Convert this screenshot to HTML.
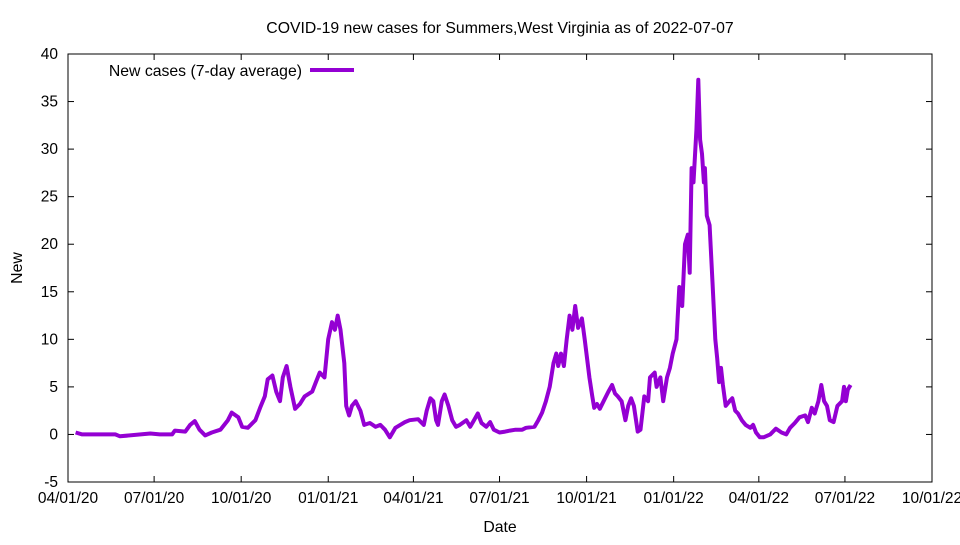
<!DOCTYPE html>
<html><head><meta charset="utf-8"><style>
body{margin:0;background:#fff;}
svg text{font-family:"Liberation Sans",sans-serif;font-size:15.5px;fill:#000;}
svg text.big{font-size:15.8px;}
</style></head><body>
<svg width="960" height="540">
<text class="big" x="500" y="33" text-anchor="middle">COVID-19 new cases for Summers,West Virginia as of 2022-07-07</text>
<rect x="68" y="54" width="864" height="428" fill="none" stroke="#000" stroke-width="1"/>
<g id="axes"></g>
<text class="big" x="500" y="532" text-anchor="middle">Date</text>
<text class="big" x="22" y="268" text-anchor="middle" transform="rotate(-90 22 268)">New</text>
<text class="big" x="302" y="76" text-anchor="end">New cases (7-day average)</text>
<line x1="310" y1="70" x2="354" y2="70" stroke="#9400d3" stroke-width="4"/>
<path id="series" fill="none" stroke="#9400d3" stroke-width="4" stroke-linejoin="round"/>
</svg>
<script>
const days=[8,15,50,55,87,97,110,113,124,129,134,139,145,152,161,169,173,180,184,190,198,203,208,211,216,220,224,227,231,235,240,245,250,258,262,266,271,275,279,282,285,288,292,294,297,300,304,309,313,319,325,330,335,340,346,351,356,361,370,376,379,383,386,389,391,395,398,402,406,410,414,421,425,429,433,437,442,446,450,456,462,467,473,480,484,493,497,501,505,509,513,516,518,521,524,527,530,533,536,539,543,546,551,554,556,559,562,566,571,575,578,581,585,589,592,595,598,602,605,609,613,615,620,622,626,629,633,636,639,643,646,649,652,655,657,659,661,664,666,668,670,672,673,675,678,681,684,686,688,690,692,695,699,702,705,708,712,716,721,724,727,731,735,742,748,754,759,763,768,773,779,782,786,789,793,796,799,802,805,809,813,818,820,822,824,827];
const cases=[0.2,0,0,-0.2,0.1,0,0,0.4,0.3,1,1.4,0.5,-0.1,0.2,0.5,1.5,2.3,1.8,0.8,0.7,1.5,2.8,4,5.8,6.2,4.5,3.5,6,7.2,5,2.7,3.2,4,4.5,5.5,6.5,6,10,11.8,11,12.5,11,7.5,3,2,3,3.5,2.5,1,1.2,0.8,1,0.5,-0.3,0.7,1,1.3,1.5,1.6,1,2.5,3.8,3.5,1.5,1,3.5,4.2,3,1.5,0.8,1,1.5,0.8,1.5,2.2,1.2,0.8,1.3,0.5,0.2,0.3,0.4,0.5,0.5,0.7,0.8,1.5,2.3,3.5,5,7.5,8.5,7.2,8.5,7.2,10,12.5,11,13.5,11.2,12.2,10,6,4,2.8,3.2,2.7,3.5,4.5,5.2,4.3,4,3.5,1.5,3,3.8,3,0.3,0.5,4,3.5,6,6.5,5,6,3.5,6,7,8.5,10,15.5,13.5,20,21,17,28,26.5,32,37.3,31,29.5,26.5,28,23,22,16,10,8,5.5,7,5.2,3,3.5,3.8,2.5,2.2,1.5,1,0.7,1,0.2,-0.3,-0.3,0,0.6,0.2,0,0.7,1.2,1.8,2,1.3,2.8,2.2,3.5,5.2,3.5,3,1.5,1.3,3,3.5,5,3.5,4.7,5.2];
const yTicks=[-5,0,5,10,15,20,25,30,35,40];
const xTickLabels=["04/01/20","07/01/20","10/01/20","01/01/21","04/01/21","07/01/21","10/01/21","01/01/22","04/01/22","07/01/22","10/01/22"];
const xTickDays=[0,91,183,275,365,456,548,640,730,821,913];
const X=d=>68+d*864/913, Y=v=>482-(v+5)*428/45;
const NS="http://www.w3.org/2000/svg", g=document.getElementById('axes');
function mk(t,a){const e=document.createElementNS(NS,t);for(const k in a)e.setAttribute(k,a[k]);g.appendChild(e);return e;}
yTicks.forEach(v=>{const y=Y(v);
 let l=mk('line',{x1:68,x2:74,y1:y,y2:y,stroke:'#000'});
 
 
 let r=mk('line',{x1:926,x2:932,y1:y,y2:y,stroke:'#000'});
 
 
 let t=mk('text',{x:58,y:y+5,'text-anchor':'end'});t.textContent=v;
 
 });
xTickDays.forEach((d,i)=>{const x=X(d);
 let l=mk('line',{x1:x,x2:x,y1:482,y2:476,stroke:'#000'});
 
 
 let u=mk('line',{x1:x,x2:x,y1:54,y2:60,stroke:'#000'});
 
 
 let t=mk('text',{x:x,y:503,'text-anchor':'middle'});t.textContent=xTickLabels[i];
 
 });
document.getElementById('series').setAttribute('d',days.map((d,i)=>(i?'L':'M')+X(d).toFixed(1)+' '+Y(cases[i]).toFixed(1)).join(' '));
</script>
</body></html>
